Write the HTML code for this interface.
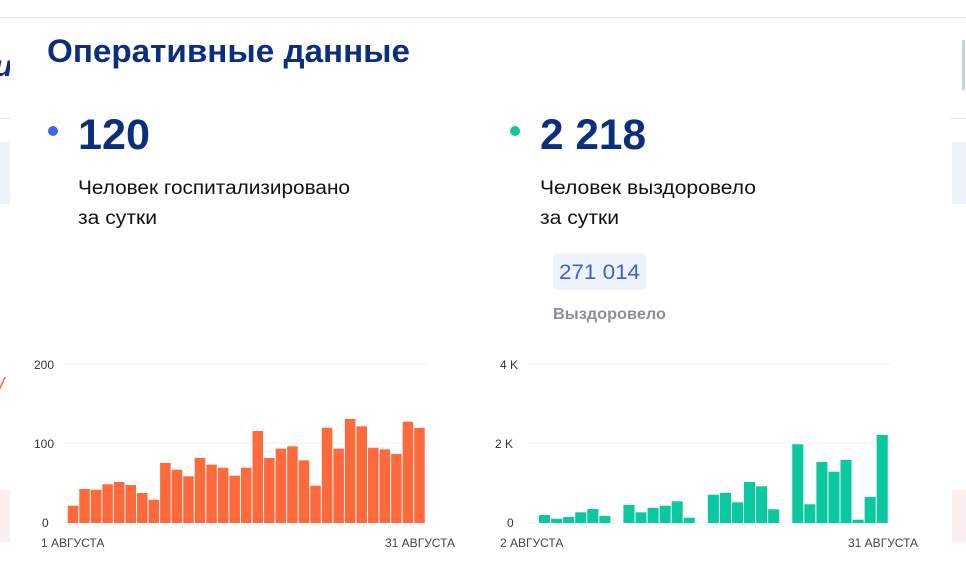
<!DOCTYPE html>
<html><head><meta charset="utf-8"><style>
html,body{margin:0;padding:0;width:966px;height:588px;overflow:hidden;background:#fff;font-family:"Liberation Sans",sans-serif}
</style></head><body>
<svg width="966" height="588" xmlns="http://www.w3.org/2000/svg" font-family="Liberation Sans, sans-serif">
<rect width="966" height="588" fill="#fff"/>
<rect x="0" y="17" width="966" height="1" fill="#e2e4e8"/>
<rect x="0" y="118" width="12" height="1" fill="#dfe2e6"/>
<rect x="950" y="118" width="16" height="1" fill="#dfe2e6"/>
<rect x="0" y="142" width="10" height="62" fill="#eef2fa"/>
<rect x="952" y="142" width="14" height="62" fill="#eef2fa"/>
<rect x="0" y="490" width="10" height="52" fill="#fbeeee"/>
<rect x="952" y="490" width="14" height="52" fill="#fbeeee"/>
<text x="-6" y="76" font-size="30" font-weight="bold" fill="#0b2f7e" font-style="italic">и</text>
<text x="-2" y="393" font-size="22" fill="#ff6a3d" font-style="italic">/</text>
<rect x="962" y="40" width="3" height="50" fill="#c7d0e0"/>
<rect x="10" y="18" width="941" height="570" fill="#fff"/>
<text x="47" y="62" font-size="32" font-weight="bold" fill="#0b2f7e" textLength="363" lengthAdjust="spacingAndGlyphs">Оперативные данные</text>
<circle cx="53" cy="131" r="5" fill="#3d63f0"/>
<text x="78" y="149" font-size="43" font-weight="bold" fill="#0b2f7e" textLength="72" lengthAdjust="spacingAndGlyphs">120</text>
<text x="78" y="194" font-size="19" fill="#111" textLength="272" lengthAdjust="spacingAndGlyphs">Человек госпитализировано</text>
<text x="78" y="224" font-size="19" fill="#111" textLength="79" lengthAdjust="spacingAndGlyphs">за сутки</text>
<circle cx="515" cy="131" r="5" fill="#17c5a0"/>
<text x="540" y="149" font-size="43" font-weight="bold" fill="#0b2f7e" textLength="106" lengthAdjust="spacingAndGlyphs">2 218</text>
<text x="540" y="194" font-size="19" fill="#111" textLength="216" lengthAdjust="spacingAndGlyphs">Человек выздоровело</text>
<text x="540" y="224" font-size="19" fill="#111" textLength="79" lengthAdjust="spacingAndGlyphs">за сутки</text>
<rect x="553" y="253" width="93" height="37" rx="5" fill="#eef3fb"/>
<text x="559" y="279" font-size="21" fill="#3d63c8" textLength="81" lengthAdjust="spacingAndGlyphs">271 014</text>
<text x="553" y="319" font-size="16" font-weight="bold" fill="#8a8f99" textLength="113" lengthAdjust="spacingAndGlyphs">Выздоровело</text>
<g font-size="12" fill="#333">
<line x1="64" y1="364" x2="427" y2="364" stroke="#f0f0f0"/>
<line x1="64" y1="443" x2="427" y2="443" stroke="#f0f0f0"/>
<line x1="64" y1="523" x2="427" y2="523" stroke="#f0f0f0"/>
<text x="34" y="369">200</text><text x="34" y="448">100</text><text x="42" y="527">0</text>
<text x="41" y="547" fill="#444">1 АВГУСТА</text><text x="385" y="547" fill="#444">31 АВГУСТА</text>
<text x="500" y="369">4 K</text><text x="495" y="448">2 K</text><text x="507" y="527">0</text>
<text x="500" y="547" fill="#444">2 АВГУСТА</text><text x="848" y="547" fill="#444">31 АВГУСТА</text>
<line x1="528" y1="364" x2="890" y2="364" stroke="#f0f0f0"/>
<line x1="528" y1="443" x2="890" y2="443" stroke="#f0f0f0"/>
<line x1="528" y1="523" x2="890" y2="523" stroke="#f0f0f0"/>
</g>
<g fill="#ff6a3d" transform="translate(0,523) scale(1,-1)">
<rect x="67.7" y="0" width="10.55" height="17.3"/>
<rect x="79.25" y="0" width="10.55" height="34"/>
<rect x="90.8" y="0" width="10.55" height="33.3"/>
<rect x="102.35" y="0" width="10.55" height="38.7"/>
<rect x="113.9" y="0" width="10.55" height="41"/>
<rect x="125.45" y="0" width="10.55" height="38"/>
<rect x="137" y="0" width="10.55" height="30"/>
<rect x="148.55" y="0" width="10.55" height="23.3"/>
<rect x="160.1" y="0" width="10.55" height="60"/>
<rect x="171.65" y="0" width="10.55" height="53.3"/>
<rect x="183.2" y="0" width="10.55" height="46.7"/>
<rect x="194.75" y="0" width="10.55" height="65"/>
<rect x="206.3" y="0" width="10.55" height="58.3"/>
<rect x="217.85" y="0" width="10.55" height="55.3"/>
<rect x="229.4" y="0" width="10.55" height="47.3"/>
<rect x="240.95" y="0" width="10.55" height="55.3"/>
<rect x="252.5" y="0" width="10.55" height="92"/>
<rect x="264.05" y="0" width="10.55" height="65"/>
<rect x="275.6" y="0" width="10.55" height="74.3"/>
<rect x="287.15" y="0" width="10.55" height="76.7"/>
<rect x="298.7" y="0" width="10.55" height="62.7"/>
<rect x="310.25" y="0" width="10.55" height="37.3"/>
<rect x="321.8" y="0" width="10.55" height="95.3"/>
<rect x="333.35" y="0" width="10.55" height="74.3"/>
<rect x="344.9" y="0" width="10.55" height="104"/>
<rect x="356.45" y="0" width="10.55" height="96.7"/>
<rect x="368" y="0" width="10.55" height="75.3"/>
<rect x="379.55" y="0" width="10.55" height="73.7"/>
<rect x="391.1" y="0" width="10.55" height="69"/>
<rect x="402.65" y="0" width="10.55" height="101.3"/>
<rect x="414.2" y="0" width="10.55" height="95"/>
</g>
<g fill="#0ac8a0" transform="translate(0,523) scale(1,-1)">
<rect x="539" y="0" width="11.06" height="8"/>
<rect x="551.06" y="0" width="11.06" height="4.3"/>
<rect x="563.12" y="0" width="11.06" height="6"/>
<rect x="575.18" y="0" width="11.06" height="10.7"/>
<rect x="587.24" y="0" width="11.06" height="14"/>
<rect x="599.3" y="0" width="11.06" height="7"/>
<rect x="623.42" y="0" width="11.06" height="18"/>
<rect x="635.48" y="0" width="11.06" height="10.7"/>
<rect x="647.54" y="0" width="11.06" height="15"/>
<rect x="659.6" y="0" width="11.06" height="17.3"/>
<rect x="671.66" y="0" width="11.06" height="21.7"/>
<rect x="683.72" y="0" width="11.06" height="5.3"/>
<rect x="707.84" y="0" width="11.06" height="28.3"/>
<rect x="719.9" y="0" width="11.06" height="30"/>
<rect x="731.96" y="0" width="11.06" height="20.7"/>
<rect x="744.02" y="0" width="11.06" height="41"/>
<rect x="756.08" y="0" width="11.06" height="36.7"/>
<rect x="768.14" y="0" width="11.06" height="13.7"/>
<rect x="792.26" y="0" width="11.06" height="78.7"/>
<rect x="804.32" y="0" width="11.06" height="18.7"/>
<rect x="816.38" y="0" width="11.06" height="61"/>
<rect x="828.44" y="0" width="11.06" height="51.3"/>
<rect x="840.5" y="0" width="11.06" height="63"/>
<rect x="852.56" y="0" width="11.06" height="3.3"/>
<rect x="864.62" y="0" width="11.06" height="26"/>
<rect x="876.68" y="0" width="11.06" height="88"/>
</g>
</svg>
</body></html>
